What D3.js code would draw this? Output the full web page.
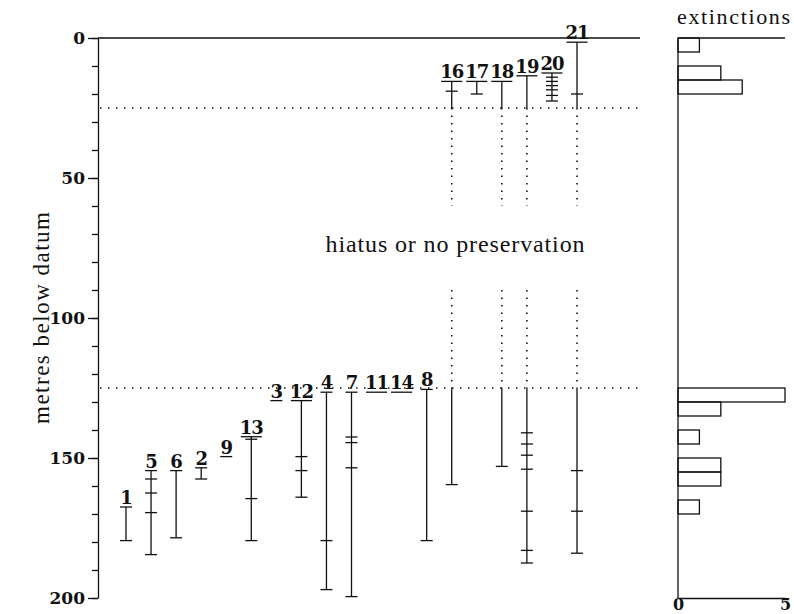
<!DOCTYPE html>
<html>
<head>
<meta charset="utf-8">
<script src="https://cdn.jsdelivr.net/npm/d3@7"></script>
<style>
  body { margin: 0; background: #fff; }
  svg { display: block; }
</style>
</head>
<body>
<div id="chart"></div>
<script>
const width = 794;
const height = 614;

// taxa in column order
const taxa = ["1", "5", "6", "2", "9", "13", "3", "12", "4", "7", "11", "14", "8", "16", "17", "18", "19", "20", "21"];
// occurrence levels (metres below datum) for each taxon, first = highest
const occurrences = [
  [167.5, 179.5],
  [154.5, 157.5, 162.5, 169.5, 184.5],
  [154.5, 178.5],
  [153.5, 157.5],
  [149.5],
  [142.4, 143.3, 164.5, 179.5],
  [129.5],
  [129.5, 149.5, 154.5, 164],
  [126.5, 179.5, 197],
  [126.5, 142.5, 144.5, 153.5, 199.5],
  [126.5],
  [126.5],
  [125.5, 179.5],
  [15.5, 19, 159.5],
  [15.5, 20],
  [15.5, 153],
  [13.5, 141, 145, 149, 154, 169, 183, 187.5],
  [12.5, 14, 15.5, 17, 18.5, 20.5, 22.5],
  [1.5, 20, 154.5, 169, 184]
];

// hiatus interval and the dotted pieces drawn through it
const hiatus = [25, 125];
const dottedPieces = [[25, 60], [90, 125]];

// extinctions histogram (5 m bins)
const binStart = [0, 10, 15, 125, 130, 140, 150, 155, 165];
const extinctions = [1, 2, 3, 5, 2, 1, 2, 2, 1];
const binSize = 5;

const yMajor = [0, 50, 100, 150, 200];
const yMinor = d3.range(0, 201, 10);

const svg = d3.select("#chart").append("svg")
  .attr("width", width)
  .attr("height", height)

const y = d3.scaleLinear().domain([0, 200]).range([38, 598])
const x = d3.scalePoint().domain(taxa).range([126, 577])
const hx = d3.scaleLinear().domain([0, 5]).range([678, 785])

const boldFont = "'DejaVu Serif', serif";
const textFont = "'Liberation Serif', serif";

// left axis
svg.append("g")
  .attr("transform", "translate(98,0)")
  .call(d3.axisLeft(y).tickValues(yMinor).tickSize(6).tickSizeOuter(0).tickFormat(""))
  .call(g => g.selectAll("line, path").attr("stroke", "#111").attr("stroke-width", 1.3))

svg.append("g")
  .attr("transform", "translate(98,0)")
  .call(d3.axisLeft(y).tickValues(yMajor).tickSize(10).tickSizeOuter(0).tickPadding(3))
  .call(g => g.select(".domain").remove())
  .call(g => g.selectAll("line").attr("stroke", "#111").attr("stroke-width", 1.3))
  .call(g => g.selectAll("text")
    .attr("font-family", boldFont)
    .attr("font-weight", "bold")
    .attr("font-size", 17)
    .attr("fill", "#111"))

svg.append("text")
  .attr("transform", `translate(49,${y(100)}) rotate(-90)`)
  .attr("text-anchor", "middle")
  .attr("font-family", textFont)
  .attr("font-size", 23)
  .attr("textLength", 212)
  .attr("fill", "#111")
  .text("metres below datum")

// top line
svg.append("line")
  .attr("x1", 98).attr("x2", 640)
  .attr("y1", y(0)).attr("y2", y(0))
  .attr("stroke", "#111").attr("stroke-width", 1.3)

// hiatus dotted horizontals
svg.selectAll(".hline")
  .data(hiatus)
  .join("line")
  .attr("x1", 100).attr("x2", 638)
  .attr("y1", d => y(d)).attr("y2", d => y(d))
  .attr("stroke", "#111")
  .attr("stroke-width", 1.6)
  .attr("stroke-dasharray", "1.5,6.5")

svg.append("text")
  .attr("x", 455).attr("y", 252)
  .attr("text-anchor", "middle")
  .attr("font-family", textFont)
  .attr("font-size", 24)
  .attr("textLength", 259)
  .attr("fill", "#111")
  .text("hiatus or no preservation")

const ranges = taxa.map((t, i) => ({
  taxon: t,
  levels: occurrences[i],
  top: d3.min(occurrences[i]),
  bottom: d3.max(occurrences[i])
}))

const cols = svg.selectAll(".taxon")
  .data(ranges)
  .join("g")
  .attr("transform", d => `translate(${x(d.taxon)},0)`)

// range lines (split around the hiatus), occurrence ticks, labels
cols.each(function(d) {
  const g = d3.select(this);
  let segs = [[d.top, d.bottom]];
  if (d.top < hiatus[0] && d.bottom > hiatus[1]) {
    segs = [[d.top, hiatus[0]], [hiatus[1], d.bottom]];
    dottedPieces.forEach(p => {
      g.append("line")
        .attr("y1", y(p[0])).attr("y2", y(p[1]))
        .attr("stroke", "#111")
        .attr("stroke-width", 1.6)
        .attr("stroke-dasharray", "1.5,6")
    });
  }
  segs.forEach(s => {
    if (s[1] > s[0]) {
      g.append("line")
        .attr("y1", y(s[0])).attr("y2", y(s[1]))
        .attr("stroke", "#111").attr("stroke-width", 1.3)
    }
  });
  g.selectAll(".tick")
    .data(d.levels.slice(1))
    .join("line")
    .attr("x1", -6).attr("x2", 6)
    .attr("y1", v => y(v)).attr("y2", v => y(v))
    .attr("stroke", "#111").attr("stroke-width", 1.3)

  const label = g.append("text")
    .attr("y", y(d.top) - 3)
    .attr("text-anchor", "middle")
    .attr("font-family", boldFont)
    .attr("font-weight", "bold")
    .attr("font-size", 18)
    .attr("letter-spacing", -1)
    .attr("fill", "#111")
    .text(d.taxon)
  const w = Math.max(12, label.node().getComputedTextLength() - 2);
  g.append("line")
    .attr("x1", -w / 2).attr("x2", w / 2)
    .attr("y1", y(d.top)).attr("y2", y(d.top))
    .attr("stroke", "#111").attr("stroke-width", 1.3)
})

// extinctions histogram
svg.append("text")
  .attr("x", 677).attr("y", 24)
  .attr("font-family", textFont)
  .attr("font-size", 22)
  .attr("textLength", 113)
  .attr("fill", "#111")
  .text("extinctions")

svg.selectAll(".bar")
  .data(binStart)
  .join("rect")
  .attr("x", hx(0))
  .attr("y", d => y(d))
  .attr("width", (d, i) => hx(extinctions[i]) - hx(0))
  .attr("height", y(binSize) - y(0))
  .attr("fill", "none")
  .attr("stroke", "#111")
  .attr("stroke-width", 1.3)

svg.append("line")
  .attr("x1", hx(0)).attr("x2", hx(0))
  .attr("y1", y(0)).attr("y2", y(200))
  .attr("stroke", "#111").attr("stroke-width", 1.3)

svg.append("line")
  .attr("x1", hx(0)).attr("x2", hx(5))
  .attr("y1", y(0)).attr("y2", y(0))
  .attr("stroke", "#111").attr("stroke-width", 1.3)

svg.append("g")
  .attr("transform", `translate(0,${y(200)})`)
  .call(d3.axisBottom(hx).tickValues([0, 5]).tickFormat(d3.format("d")).tickSize(0).tickSizeOuter(0).tickPadding(1))
  .call(g => g.select(".domain").attr("stroke", "#111").attr("stroke-width", 1.3))
  .call(g => g.selectAll("text")
    .attr("font-family", boldFont)
    .attr("font-weight", "bold")
    .attr("font-size", 16)
    .attr("fill", "#111"))
</script>
</body>
</html>
